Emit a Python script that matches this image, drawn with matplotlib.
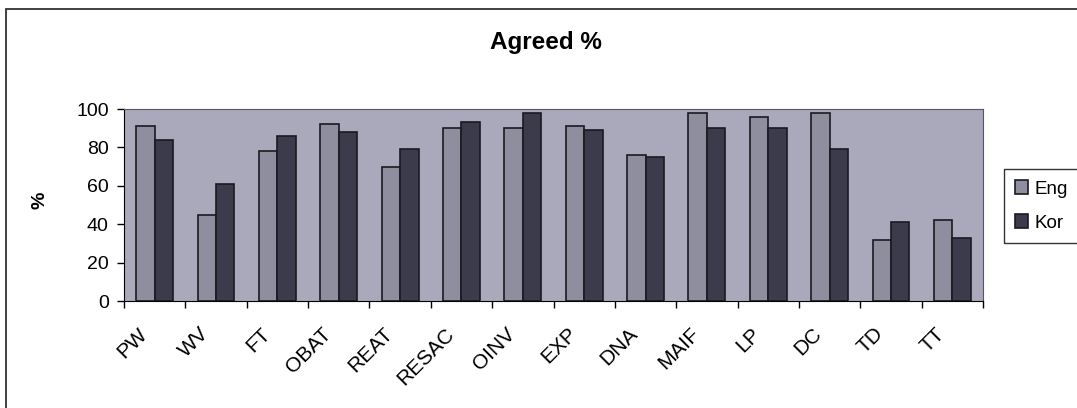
import matplotlib.pyplot as plt
from matplotlib.patches import Rectangle
import numpy as np

plt.rcParams["font.family"] = ["Liberation Sans", "DejaVu Sans"]

categories = ["PW", "WV", "FT", "OBAT", "REAT", "RESAC", "OINV",
              "EXP", "DNA", "MAIF", "LP", "DC", "TD", "TT"]
eng = [91, 45, 78, 92, 70, 90, 90, 91, 76, 98, 96, 98, 32, 42]
kor = [84, 61, 86, 88, 79, 93, 98, 89, 75, 90, 90, 79, 41, 33]

W, H = 1077, 408
fig = plt.figure(figsize=(W / 100, H / 100), dpi=100)

# chart frame around the whole object (runs off the right and bottom edge)
fig.patches.append(Rectangle((6 / W, -0.05), 1.2, 1 - 9 / H + 0.05,
                             transform=fig.transFigure, fill=False,
                             edgecolor="#333333", linewidth=1.3))

ax = fig.add_axes([124 / W, 1 - 301 / H, (983 - 124) / W, (301 - 109) / H])
ax.set_facecolor("#a9a9bb")

x = np.arange(len(categories))
bw = 0.3
ax.bar(x - bw / 2, eng, bw, color="#8e8e9e", edgecolor="#1a1a22",
       linewidth=1.2, label="Eng")
ax.bar(x + bw / 2, kor, bw, color="#3b3b4b", edgecolor="#1a1a22",
       linewidth=1.2, label="Kor")

ax.set_xlim(-0.5, len(categories) - 0.5)
ax.set_ylim(0, 100)
ax.set_yticks(range(0, 101, 20))
ax.tick_params(axis="y", labelsize=14, length=5, width=1, direction="out",
               pad=6)

# category boundaries carry the ticks, labels sit at the centres
ax.set_xticks(np.arange(len(categories) + 1) - 0.5)
ax.set_xticklabels([])
ax.tick_params(axis="x", length=5, width=1, direction="out")
for i, c in enumerate(categories):
    ax.text(i - 0.28, -12, c, rotation=45, ha="right", va="top",
            rotation_mode="anchor", fontsize=15)

for s in ax.spines.values():
    s.set_color("#555566")
ax.spines["left"].set_color("black")
ax.spines["bottom"].set_color("black")

fig.text(40 / W, 1 - 200 / H, "%", rotation=90, ha="center", va="center",
         fontsize=14, fontweight="bold")
fig.text(546 / W, 1 - 43 / H, "Agreed %", ha="center", va="center",
         fontsize=17.5, fontweight="bold")

fig.legend(loc="center left", bbox_to_anchor=(1004 / W, 1 - 206 / H),
           fontsize=13.5, frameon=True, fancybox=False, edgecolor="black",
           handlelength=0.7, handleheight=0.7, handletextpad=0.3,
           borderpad=0.6, labelspacing=0.9, borderaxespad=0)

fig.savefig("out.png", dpi=100, facecolor="white")
